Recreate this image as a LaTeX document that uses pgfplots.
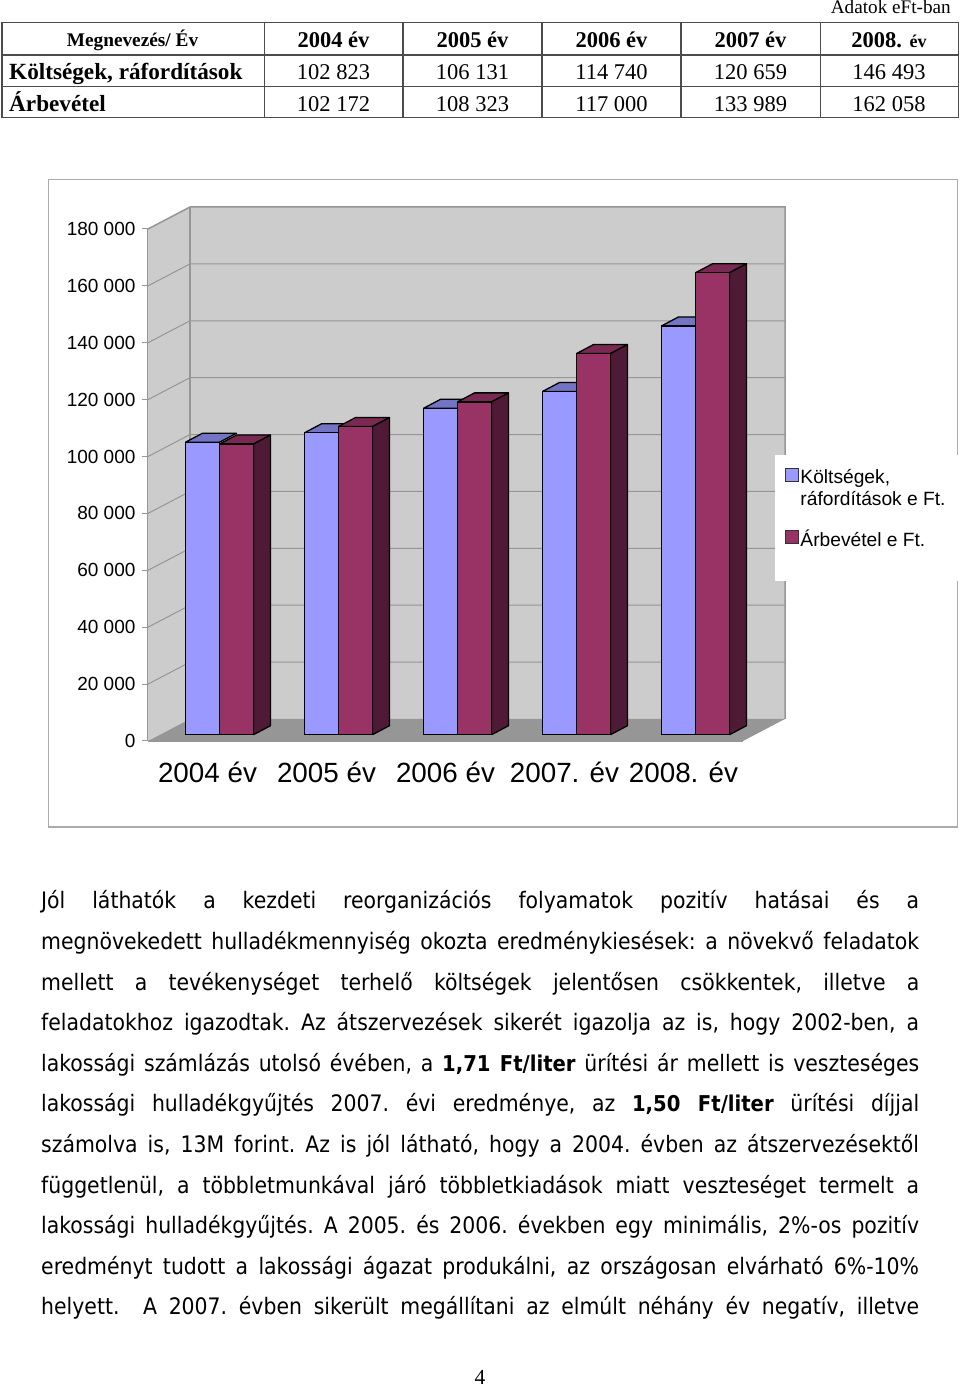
\documentclass[border=0pt]{standalone}
\usepackage{pgfplots}
\pgfplotsset{compat=1.18}
\usepackage{pgfplotstable}
\usepackage{fontspec}
\setmainfont{Liberation Sans}
\newfontfamily\timesf{Liberation Serif}
\newfontfamily\bodyf{DejaVu Sans Condensed}
\definecolor{lightbar}{HTML}{9999FF}
\definecolor{lighttop}{HTML}{7474C4}
\definecolor{darkbar}{HTML}{993366}
\definecolor{darktop}{HTML}{7A2952}
\definecolor{darkside}{HTML}{4F1A35}
\definecolor{wall}{HTML}{CCCCCC}
\definecolor{floorc}{HTML}{969696}
\definecolor{gridc}{HTML}{969696}
\definecolor{framec}{HTML}{ABABAB}
\pgfplotstableread{
x kolt arb
0.5 102823 102172
1.5 106131 108323
2.5 114740 117000
3.5 120659 133989
4.5 143700 162400
}\costs
% one 3-D bar pair: the top and side faces, from the category and the two values
\newcommand{\threed}[3]{%
  \pgfmathsetmacro{\xa}{#1-.2857}\pgfmathsetmacro{\xb}{#1-.1429}%
  \pgfmathsetmacro{\xc}{#1+.1429}\pgfmathsetmacro{\xd}{#1+.2857}\pgfmathsetmacro{\xe}{#1+.4286}%
  \addplot[forget plot,fill=lighttop,draw=black,line width=1.3pt,line join=round]
    coordinates {(\xa,#2) (#1,#2) (\xc,\the\numexpr#2+3164\relax) (\xb,\the\numexpr#2+3164\relax) (\xa,#2)};
  \addplot[forget plot,fill=darktop,draw=black,line width=1.3pt,line join=round]
    coordinates {(#1,#3) (\xd,#3) (\xe,\the\numexpr#3+3164\relax) (\xc,\the\numexpr#3+3164\relax) (#1,#3)};
  \addplot[forget plot,fill=darkside,draw=black,line width=1.3pt,line join=round]
    coordinates {(\xd,0) (\xe,3164) (\xe,\the\numexpr#3+3164\relax) (\xd,#3) (\xd,0)};
}
\newcommand{\tline}[2]{\node[anchor=base west,inner sep=0pt] at (41,#1) {\makebox[878pt][s]{#2}};}
\newcommand{\bodysize}{\fontsize{22.7}{26}\selectfont\bodyf\frenchspacing}
\newcommand{\bt}[1]{{\bfseries\fontsize{21.8}{26}\selectfont #1}}
\begin{document}
\begin{tikzpicture}
\path[use as bounding box,fill=white] (0,0) rectangle (960pt,1388pt);
\begin{scope}[x=1pt,y=-1pt,shift={(0pt,1388pt)}]
\draw[framec,line width=1.5pt] (48.5,179.5) rectangle (957.5,827);
\end{scope}
% walls, floor, gridlines, axes
\begin{axis}[at={(148pt,647pt)},anchor=south west,scale only axis,width=595pt,height=512pt,
  xmin=0,xmax=5,ymin=0,ymax=180000,clip=false,axis lines=left,
  axis line style={gridc,line width=1.2pt,-},
  tick align=outside,major tick length=6pt,
  ytick={0,20000,...,180000},
  yticklabels={0,20 000,40 000,60 000,80 000,100 000,120 000,140 000,160 000,180 000},
  yticklabel style={font=\fontsize{19}{22}\selectfont,black,xshift=-3pt},
  ytick style={gridc,line width=1pt},
  xtick={0.5,1.5,2.5,3.5,4.5},
  xticklabels={2004 év,2005 év,2006 év,2007. év,2008. év},
  xticklabel style={font=\fontsize{27.8}{32}\selectfont,black,yshift=-12pt},
  x tick style={draw=none},
  extra x ticks={0,1,2,3,4,5},extra x tick labels={},
  extra x tick style={major tick length=6pt,tick style={gridc,line width=1pt,draw=gridc}},
  scaled y ticks=false]
\addplot[forget plot,fill=wall,draw=none] coordinates {(0.353,7734) (5.353,7734) (5.353,187734) (0.353,187734) (0.353,7734)};
\addplot[forget plot,fill=wall,draw=none] coordinates {(0,0) (0.353,7734) (0.353,187734) (0,180000) (0,0)};
\addplot[forget plot,fill=floorc,draw=none] coordinates {(0,0) (5,0) (5.353,7734) (0.353,7734) (0,0)};
\addplot[forget plot,gridc,line width=1pt] coordinates {(0,20000) (0.353,27734) (5.353,27734)};
\addplot[forget plot,gridc,line width=1pt] coordinates {(0,40000) (0.353,47734) (5.353,47734)};
\addplot[forget plot,gridc,line width=1pt] coordinates {(0,60000) (0.353,67734) (5.353,67734)};
\addplot[forget plot,gridc,line width=1pt] coordinates {(0,80000) (0.353,87734) (5.353,87734)};
\addplot[forget plot,gridc,line width=1pt] coordinates {(0,100000) (0.353,107734) (5.353,107734)};
\addplot[forget plot,gridc,line width=1pt] coordinates {(0,120000) (0.353,127734) (5.353,127734)};
\addplot[forget plot,gridc,line width=1pt] coordinates {(0,140000) (0.353,147734) (5.353,147734)};
\addplot[forget plot,gridc,line width=1pt] coordinates {(0,160000) (0.353,167734) (5.353,167734)};
\addplot[forget plot,gridc,line width=1.5pt] coordinates {(0,180000) (0.353,187734) (5.353,187734) (5.353,7734)};
\addplot[forget plot,gridc,line width=1.8pt] coordinates {(0.353,187734) (0.353,7734)};
\end{axis}
\begin{scope}[x=1pt,y=-1pt,shift={(0pt,1388pt)}]
\fill[white] (775,455) rectangle (959.5,581);
\end{scope}
% bars
\begin{axis}[at={(160pt,653.3pt)},anchor=south west,scale only axis,width=595pt,height=512pt,
  xmin=0,xmax=5,ymin=0,ymax=180000,clip=false,axis lines=none,
  legend style={at={(1.0512,0.5189)},anchor=north west,draw=none,fill=none,
    font=\fontsize{19.2}{22}\selectfont,inner sep=0pt,outer sep=0pt,
    cells={align=left,anchor=north west},row sep=23pt,
    nodes={inner sep=0pt}},
  legend cell align=left]
\threed{0.5}{102823}{102172}
\threed{1.5}{106131}{108323}
\threed{2.5}{114740}{117000}
\threed{3.5}{120659}{133989}
\threed{4.5}{143700}{162400}
\addplot[ybar,bar width=34pt,bar shift=-17pt,fill=lightbar,draw=black,line width=1.3pt,
  legend image code/.code={\path[draw=none,fill=none] (0pt,-3pt) rectangle (15pt,9pt);
    \draw[overlay,fill=lightbar,draw=black!80,line width=1.3pt] (0pt,6.5pt) rectangle (13pt,19.5pt);}]
  table[x=x,y=kolt] {\costs};
\addlegendentry{Költségek,\\ráfordítások e Ft.}
\addplot[ybar,bar width=34pt,bar shift=17pt,fill=darkbar,draw=black,line width=1.3pt,
  legend image code/.code={\path[draw=none,fill=none] (0pt,-3pt) rectangle (15pt,9pt);
    \draw[overlay,fill=darkbar,draw=black!80,line width=1.3pt] (0pt,-4.5pt) rectangle (13pt,8.5pt);}]
  table[x=x,y=arb] {\costs};
\addlegendentry{Árbevétel e Ft.}
\end{axis}
\begin{scope}[x=1pt,y=-1pt,shift={(0pt,1388pt)}]
% table
\draw[black!70,line width=1.5pt] (2,22.5) rectangle (958.5,117.5);
\draw[black!70,line width=1.2pt] (2,55) -- (958.5,55) (2,86.5) -- (958.5,86.5);
\foreach \x in {264.5,403,542,681,820.5} \draw[black!70,line width=1.2pt] (\x,22.5) -- (\x,117.5);
\begin{scope}[every node/.style={inner sep=0pt}]
\timesf
\node[anchor=base east,font=\timesf\fontsize{19.2}{24}\selectfont] at (951,14) {Adatok eFt-ban};
\node[anchor=base,font=\timesf\bfseries\fontsize{19.3}{22}\selectfont] at (132.5,47) {Megnevezés/ Év};
\foreach \x/\t in {333.5/2004 év,472.5/2005 év,611.5/2006 év,750.5/2007 év}
  \node[anchor=base,font=\timesf\bfseries\fontsize{22.5}{26}\selectfont] at (\x,48) {\t};
\node[anchor=base,font=\timesf\bfseries\fontsize{22.5}{26}\selectfont] at (889,48) {2008. {\fontsize{18}{22}\selectfont év}};
\node[anchor=base west,font=\timesf\bfseries\fontsize{23.2}{26}\selectfont] at (9,80) {Költségek, ráfordítások};
\node[anchor=base west,font=\timesf\bfseries\fontsize{23.2}{26}\selectfont] at (9,112) {Árbevétel};
\foreach \x/\t in {333.5/102 823,472.5/106 131,611.5/114 740,750.5/120 659,889/146 493}
  \node[anchor=base,font=\timesf\fontsize{22.5}{26}\selectfont] at (\x,80) {\t};
\foreach \x/\t in {333.5/102 172,472.5/108 323,611.5/117 000,750.5/133 989,889/162 058}
  \node[anchor=base,font=\timesf\fontsize{22.5}{26}\selectfont] at (\x,112) {\t};
\node[anchor=base,font=\timesf\fontsize{21.5}{24}\selectfont] at (480,1384.5) {4};
\end{scope}
% body text
\bodysize
\tline{909}{Jól láthatók a kezdeti reorganizációs folyamatok pozitív hatásai és a}
\tline{949.6}{megnövekedett hulladékmennyiség okozta eredménykiesések: a növekvő feladatok}
\tline{990.2}{mellett a tevékenységet terhelő költségek jelentősen csökkentek, illetve a}
\tline{1030.8}{feladatokhoz igazodtak. Az átszervezések sikerét igazolja az is, hogy 2002-ben, a}
\tline{1071.4}{lakossági számlázás utolsó évében, a \bt{1,71 Ft/liter} ürítési ár mellett is veszteséges}
\tline{1112}{lakossági hulladékgyűjtés 2007. évi eredménye, az \bt{1,50 Ft/liter} ürítési díjjal}
\tline{1152.6}{számolva is, 13M forint. Az is jól látható, hogy a 2004. évben az átszervezésektől}
\tline{1193.2}{függetlenül, a többletmunkával járó többletkiadások miatt veszteséget termelt a}
\tline{1233.8}{lakossági hulladékgyűjtés. A 2005. és 2006. években egy minimális, 2\%-os pozitív}
\tline{1274.4}{eredményt tudott a lakossági ágazat produkálni, az országosan elvárható 6\%-10\%}
\tline{1315}{helyett.\ \ A 2007. évben sikerült megállítani az elmúlt néhány év negatív, illetve}
\end{scope}
\end{tikzpicture}
\end{document}
